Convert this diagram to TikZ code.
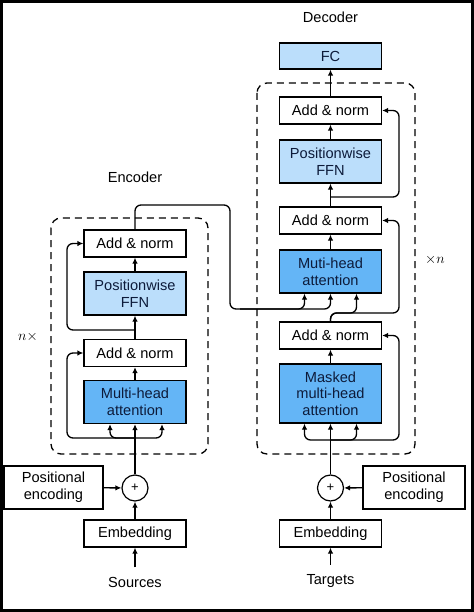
\documentclass[tikz,border=0pt]{standalone}
\usepackage{fontspec}
\setmainfont{Liberation Sans}
\usetikzlibrary{arrows.meta,calc}
\definecolor{ffnblue}{HTML}{BBDEFB}
\definecolor{attblue}{HTML}{64B5F6}
\definecolor{inkblue}{HTML}{0D1B3A}
\tikzset{
  block/.style={draw,line width=1.2bp,minimum width=102bp,minimum height=27bp,align=center,inner sep=2bp},
  ffn/.style={block,fill=ffnblue,text=inkblue},
  att/.style={block,fill=attblue,text=inkblue},
  arr/.style={-{Latex[length=6bp,width=5.5bp]},line width=1.3bp},
  wire/.style={line width=1.3bp,rounded corners=6bp},
  stack/.style={draw,dash pattern=on 7bp off 5bp,line width=1.3bp,rounded corners=10bp},
  plus/.style={draw,circle,line width=1.2bp,minimum size=26bp,inner sep=0pt,font=\fontsize{13bp}{13bp}\selectfont}
}
\begin{document}
\begin{tikzpicture}[x=1bp,y=-1bp,font=\fontsize{14.6bp}{16.7bp}\selectfont]
  \useasboundingbox (0,0) rectangle (474,612);
  \draw[line width=2.6bp] (1.3,1.3) rectangle (472.7,610.7);

  % encoder
  \draw[stack] (51,218) rectangle (208,454);
  \node (encT) at (135,177) {Encoder};
  \node[block] (eAN2) at (135,243.5) {Add \& norm};
  \node[ffn,minimum height=43bp] (eFFN) at (135,293.5) {Positionwise\\FFN};
  \node[block] (eAN1) at (135,353) {Add \& norm};
  \node[att,minimum height=43bp] (eMHA) at (135,402) {Multi-head\\attention};
  \node[plus] (ePlus) at (135,488) {+};
  \node[block,minimum width=99bp,minimum height=43bp] (ePos) at (53.5,487.5) {Positional\\encoding};
  \node[block] (eEmb) at (135,533.5) {Embedding};
  \node (src) at (135,582) {Sources};
  \node (encN) at (28,337) {$n\times$};
  \coordinate (eL) at (67,0);
  \coordinate (eFork) at (135,438);
  \coordinate (eFork2) at (135,330);

  % decoder
  \draw[stack] (257,83) rectangle (415,454);
  \node (decT) at (330.5,17) {Decoder};
  \node[ffn,minimum height=26bp] (fc) at (330.5,56) {FC};
  \node[block] (dAN3) at (330.5,110.5) {Add \& norm};
  \node[ffn,minimum height=43bp] (dFFN) at (330.5,161.5) {Positionwise\\FFN};
  \node[block] (dAN2) at (330.5,220.5) {Add \& norm};
  \node[att,minimum height=43bp] (dMHA) at (330.5,271.5) {Muti-head\\attention};
  \node[block] (dAN1) at (330.5,335.5) {Add \& norm};
  \node[att,minimum height=59bp] (dMMHA) at (330.5,393.5) {Masked\\multi-head\\attention};
  \node[plus] (dPlus) at (330.5,488) {+};
  \node[block,minimum height=43bp] (dPos) at (414,487.5) {Positional\\encoding};
  \node[block] (dEmb) at (330.5,533.5) {Embedding};
  \node (tgt) at (330.5,581) {Targets};
  \node (decN) at (435,260) {$\times n$};
  \coordinate (dR) at (399,0);
  \coordinate (dFork) at (330.5,440);
  \coordinate (dMid) at (330.5,313);
  \coordinate (dFork2) at (330.5,197);
  \coordinate (eBend) at (230,205);
  \coordinate (kvBus) at (230,309);

  % encoder wires
  \draw[arr,shorten <=6bp] (src) -- (eEmb);
  \draw[arr] (eEmb) -- (ePlus);
  \draw[arr] (ePos) -- (ePlus);
  \draw[arr] (ePlus) -- (eMHA);
  \draw[arr,wire] (eFork) -| ($(eMHA.south)+(-25,0)$);
  \draw[arr,wire] (eFork) -| ($(eMHA.south)+(27,0)$);
  \draw[arr,wire] (eFork) -- (eFork -| eL) |- (eAN1.west);
  \draw[arr] (eMHA) -- (eAN1);
  \draw[arr] (eAN1) -- (eFFN);
  \draw[arr,wire] (eFork2) -- (eFork2 -| eL) |- (eAN2.west);
  \draw[arr] (eFFN) -- (eAN2);
  \draw[arr,wire] (eAN2.north) |- (eBend) -- (kvBus) -| ($(dMHA.south)+(-26,0)$);
  \draw[arr,wire] ($(kvBus)+(10,0)$) -| (dMHA.south);

  % decoder wires
  \draw[arr,shorten <=6bp] (tgt) -- (dEmb);
  \draw[arr] (dEmb) -- (dPlus);
  \draw[arr] (dPos) -- (dPlus);
  \draw[arr] (dPlus) -- (dMMHA);
  \draw[arr,wire] (dFork) -| ($(dMMHA.south)+(-26,0)$);
  \draw[arr,wire] (dFork) -| ($(dMMHA.south)+(26,0)$);
  \draw[arr,wire] (dFork) -- (dFork -| dR) |- (dAN1.east);
  \draw[arr] (dMMHA) -- (dAN1);
  \draw[arr,wire] (dAN1.north) -- (dMid) -| ($(dMHA.south)+(26,0)$);
  \draw[arr,wire] (dAN1.north) -- (dMid) -- (dMid -| dR) |- (dAN2.east);
  \draw[arr] (dMHA) -- (dAN2);
  \draw[arr] (dAN2) -- (dFFN);
  \draw[arr,wire] (dFork2) -- (dFork2 -| dR) |- (dAN3.east);
  \draw[arr] (dFFN) -- (dAN3);
  \draw[arr] (dAN3) -- (fc);
\end{tikzpicture}
\end{document}
